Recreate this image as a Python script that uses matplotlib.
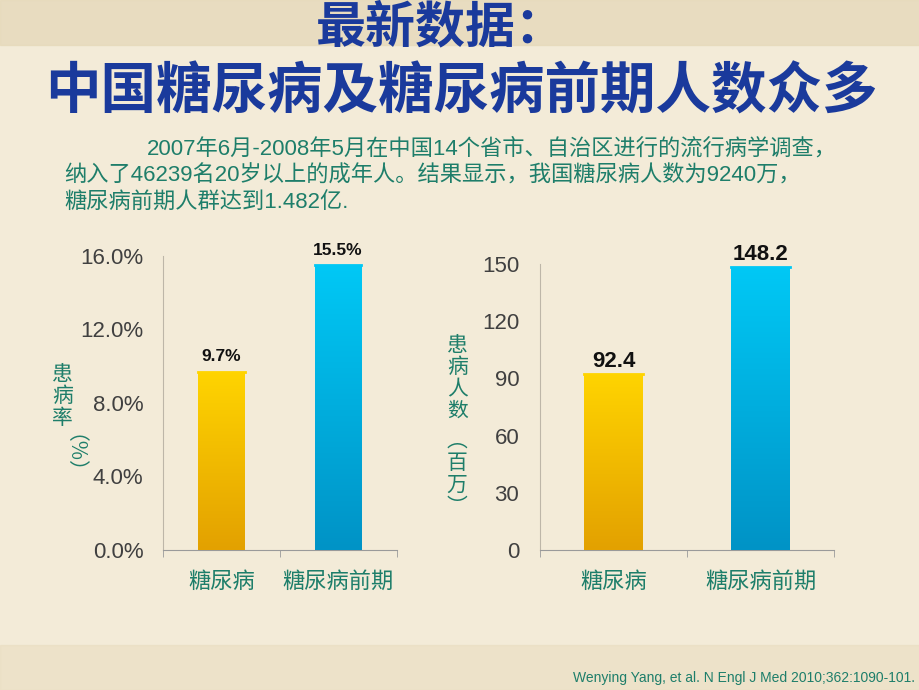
import matplotlib
matplotlib.use('Agg')
from matplotlib import pyplot as plt
import numpy as np

plt.rcParams['font.family'] = ['Liberation Sans', 'Noto Sans CJK SC', 'DejaVu Sans']

# data
categories = ['糖尿病', '糖尿病前期']
rate_values = [9.7, 15.5]
rate_labels = ['9.7%', '15.5%']
rate_ticks = [0, 4, 8, 12, 16]
count_values = [92.4, 148.2]
count_labels = ['92.4', '148.2']
count_ticks = [0, 30, 60, 90, 120, 150]

title_1 = '最新数据：'
title_2 = '中国糖尿病及糖尿病前期人数众多'
para = ['2007年6月-2008年5月在中国14个省市、自治区进行的流行病学调查，',
        '纳入了46239名20岁以上的成年人。结果显示，我国糖尿病人数为9240万，',
        '糖尿病前期人群达到1.482亿.']
source = 'Wenying Yang, et al. N Engl J Med 2010;362:1090-101.'

teal = '#1E7E6A'
navy = '#1A3A9C'
bg = '#F3EBD8'

fig = plt.figure(figsize=(9.2, 6.9), dpi=100)
fig.patch.set_facecolor(bg)

# faint decorative bands top and bottom
band = fig.add_axes([0, 0, 1, 1], zorder=-5)
band.axis('off')
band.set_xlim(0, 1)
band.set_ylim(0, 1)
band.axhspan(0.935, 1.0, color='#E6D9BA', alpha=0.8)
band.axhspan(0.0, 0.065, color='#E9DDC0', alpha=0.6)

fig.text(0.479, 0.960, title_1, ha='center', va='center', fontsize=36,
         fontweight='bold', color=navy, family=['Noto Sans CJK SC'])
fig.text(0.501, 0.866, title_2, ha='center', va='center', fontsize=40,
         fontweight='bold', color=navy, family=['Noto Sans CJK SC'])

fig.text(0.16, 0.785, para[0], ha='left', va='center', fontsize=16, color=teal)
fig.text(0.07, 0.745, para[1], ha='left', va='center', fontsize=16, color=teal)
fig.text(0.07, 0.706, para[2], ha='left', va='center', fontsize=16, color=teal)

fig.text(0.995, 0.017, source, ha='right', va='center', fontsize=10, color=teal)


def gradient_bars(ax, values, top_colors, bottom_colors):
    x = np.arange(len(values))
    bars = ax.bar(x, values, width=0.4, color='none', edgecolor='none', zorder=3)
    for b, c_top, c_bot in zip(bars, top_colors, bottom_colors):
        t = np.linspace(0, 1, 100)[:, None]
        c0 = np.array(matplotlib.colors.to_rgb(c_bot))
        c1 = np.array(matplotlib.colors.to_rgb(c_top))
        img = c0 + (c1 - c0) * t[..., None]
        img = np.repeat(img, 2, axis=1)
        xx, yy = b.get_x(), b.get_y()
        im = ax.imshow(img, extent=[xx, xx + b.get_width(), yy, yy + b.get_height()],
                       origin='lower', aspect='auto', zorder=3)
        im.set_clip_path(b)
        # thin highlight on top edge
        ax.plot([xx, xx + b.get_width()], [yy + b.get_height()] * 2,
                color=c_top, lw=2, zorder=4)
    return bars


def style_axes(ax, ticks, ticklabels, ymax, pad):
    ax.set_facecolor('none')
    ax.set_xlim(-0.5, len(categories) - 0.5)
    ax.set_ylim(0, ymax)
    ax.set_yticks(ticks)
    ax.set_yticklabels(ticklabels, fontsize=16, color='#404040')
    ax.tick_params(axis='y', length=0, pad=pad)
    ax.set_xticks(np.arange(len(categories)))
    ax.set_xticklabels(categories, fontsize=16, color=teal)
    ax.tick_params(axis='x', which='major', length=0, pad=16)
    ax.set_xticks(np.arange(len(categories) + 1) - 0.5, minor=True)
    ax.tick_params(axis='x', which='minor', length=5, color='#9A9A9A')
    for s in ['top', 'right']:
        ax.spines[s].set_visible(False)
    ax.spines['left'].set_color('#BDB6A8')
    ax.spines['bottom'].set_color('#9A9A9A')


ax1 = fig.add_axes([0.177, 0.203, 0.254, 0.426])
gradient_bars(ax1, rate_values, ['#FFD400', '#00C8F5'], ['#E3A100', '#0093C6'])
style_axes(ax1, rate_ticks, ['%.1f%%' % t for t in rate_ticks], 16, 14)
for i, (v, lab) in enumerate(zip(rate_values, rate_labels)):
    ax1.text(i, v + 0.4, lab, ha='center', va='bottom', fontsize=12.5,
             fontweight='bold', color='#111111')

ax2 = fig.add_axes([0.587, 0.203, 0.32, 0.4145])
gradient_bars(ax2, count_values, ['#FFD400', '#00C8F5'], ['#E3A100', '#0093C6'])
style_axes(ax2, count_ticks, [str(t) for t in count_ticks], 150, 15)
for i, (v, lab) in enumerate(zip(count_values, count_labels)):
    ax2.text(i, v + 1.0, lab, ha='center', va='bottom', fontsize=16,
             fontweight='bold', color='#111111')

# vertical axis titles
fig.text(0.068, 0.426, '患\n病\n率', ha='center', va='center', fontsize=15,
         color=teal, linespacing=1.0, family=['Noto Sans CJK SC'])
fig.text(0.068, 0.327, '（%）', ha='center', va='center', fontsize=15,
         color=teal, rotation=-90, family=['Noto Sans CJK SC'])
fig.text(0.497, 0.452, '患\n病\n人\n数', ha='center', va='center', fontsize=15,
         color=teal, linespacing=1.0, family=['Noto Sans CJK SC'])
fig.text(0.497, 0.313, '︵\n百\n万\n︶', ha='center', va='center', fontsize=15,
         color=teal, linespacing=1.0, family=['Noto Sans CJK SC'])

fig.savefig('out.png', dpi=100, facecolor=fig.get_facecolor())
